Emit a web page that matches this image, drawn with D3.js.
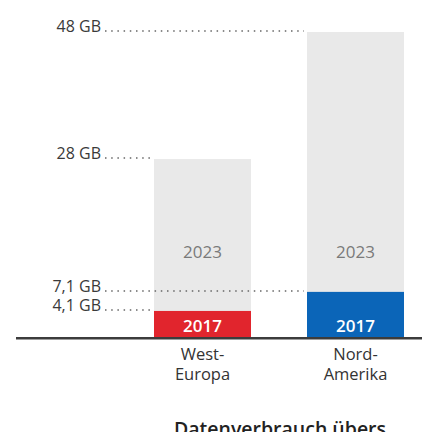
<!DOCTYPE html>
<html>
<head>
<meta charset="utf-8">
<script src="https://cdn.jsdelivr.net/npm/d3@7"></script>
<style>
  html, body { margin: 0; padding: 0; background: #fff; }
  svg { display: block; font-family: "Open Sans", "Noto Sans", sans-serif; }
</style>
</head>
<body>
<svg id="chart" width="422" height="432"></svg>
<script>
// ---- data ----
const categories = ["West-Europa", "Nord-Amerika"];
const categoryLines = [["West-", "Europa"], ["Nord-", "Amerika"]];
const values2017 = [4.1, 7.1];
const values2023 = [28, 48];
const yearLabels = ["2017", "2023"];
const tickValues = [48, 28, 7.1, 4.1];
const tickLabels = ["48 GB", "28 GB", "7,1 GB", "4,1 GB"];
const tickTarget = ["Nord-Amerika", "West-Europa", "Nord-Amerika", "West-Europa"];
const colors2017 = ["#e1252d", "#0b65b8"];
const titleText = "Datenverbrauch übers";

// ---- layout ----
const svg = d3.select("#chart");
const baseY = 337;
const x = d3.scaleBand().domain(categories).range([154, 404]).paddingInner(0.366).paddingOuter(0);
const y = d3.scaleLinear().domain([0, 48]).range([baseY, 32]);

// 2023 gray bars
svg.selectAll("rect.b23").data(categories).join("rect")
  .attr("class", "b23")
  .attr("x", d => x(d))
  .attr("width", x.bandwidth())
  .attr("y", (d, i) => y(values2023[i]))
  .attr("height", (d, i) => y(0) - y(values2023[i]))
  .attr("fill", "#e9e9e9");

// 2017 bars
svg.selectAll("rect.b17").data(categories).join("rect")
  .attr("class", "b17")
  .attr("x", d => x(d))
  .attr("width", x.bandwidth())
  .attr("y", (d, i) => y(values2017[i]))
  .attr("height", (d, i) => y(0) - y(values2017[i]))
  .attr("fill", (d, i) => colors2017[i]);

// dotted reference lines + labels
const labelRight = 101;
svg.selectAll("line.dots").data(tickValues).join("line")
  .attr("class", "dots")
  .attr("x1", labelRight + 4)
  .attr("x2", (d, i) => x(tickTarget[i]) - (tickTarget[i] === "Nord-Amerika" ? 3 : 0))
  .attr("y1", d => y(d) - 1)
  .attr("y2", d => y(d) - 1)
  .attr("stroke", "#666")
  .attr("stroke-width", 1.5)
  .attr("stroke-dasharray", "1.5,4.7");

svg.selectAll("text.tick").data(tickValues).join("text")
  .attr("class", "tick")
  .attr("x", labelRight)
  .attr("y", d => y(d))
  .attr("text-anchor", "end")
  .attr("font-size", 16)
  .attr("fill", "#3a3a3a")
  .text((d, i) => tickLabels[i]);

// year labels inside bars
svg.selectAll("text.y23").data(categories).join("text")
  .attr("class", "y23")
  .attr("x", d => x(d) + x.bandwidth() / 2)
  .attr("y", 258)
  .attr("text-anchor", "middle")
  .attr("font-size", 17)
  .attr("fill", "#7a7a7a")
  .text(yearLabels[1]);

svg.selectAll("text.y17").data(categories).join("text")
  .attr("class", "y17")
  .attr("x", d => x(d) + x.bandwidth() / 2)
  .attr("y", baseY - 5)
  .attr("text-anchor", "middle")
  .attr("font-size", 17)
  .attr("font-weight", 600)
  .attr("fill", "#ffffff")
  .text(yearLabels[0]);

// baseline
svg.append("line")
  .attr("x1", 16).attr("x2", 422)
  .attr("y1", baseY + 1.2).attr("y2", baseY + 1.2)
  .attr("stroke", "#3c3c3c")
  .attr("stroke-width", 2.4);

// category labels (one text per line)
categories.forEach((c, i) => {
  svg.selectAll(null).data(categoryLines[i]).join("text")
    .attr("class", "cat")
    .attr("x", x(c) + x.bandwidth() / 2)
    .attr("y", (d, j) => 360 + j * 19.5)
    .attr("text-anchor", "middle")
    .attr("font-size", 16.5)
    .attr("fill", "#333")
    .text(d => d);
});

// title (cut off at bottom, as in the reference)
svg.append("text")
  .attr("x", 280)
  .attr("y", 436)
  .attr("text-anchor", "middle")
  .attr("font-size", 19.5)
  .attr("font-weight", 600)
  .attr("fill", "#222")
  .text(titleText);
</script>
</body>
</html>
